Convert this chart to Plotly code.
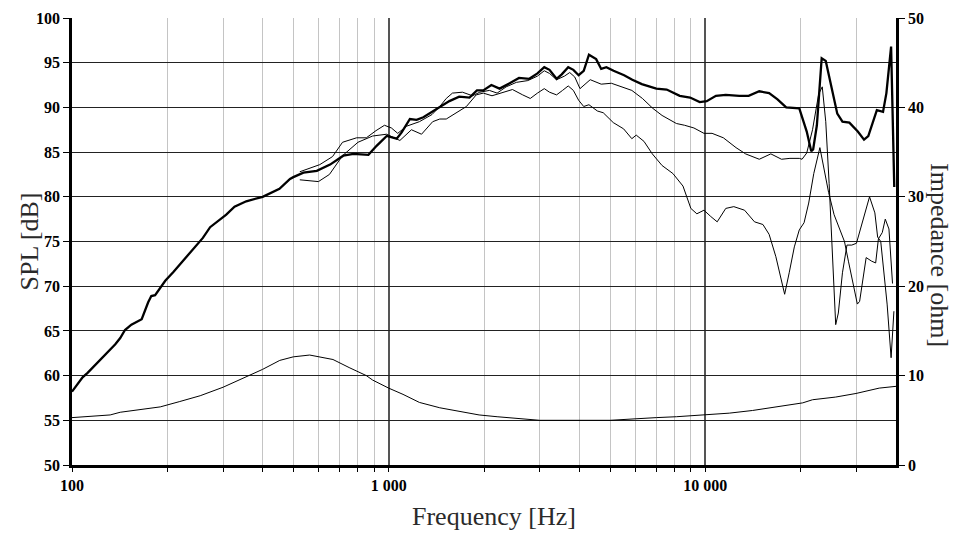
import math
import plotly.graph_objects as go

# ---- data ----
# On-axis SPL (bold)
on_f = [100,104,108,112,117,123,129,137,142,147,154,166,174,178,183,190,197,209,225,247,259,273,289,307,326,355,400,431,452,488,500,538,593,653,719,774,863,916,986,1060,1099,1167,1225,1287,1367,1470,1555,1670,1800,1900,1990,2110,2240,2410,2580,2780,2950,3100,3220,3390,3520,3690,3830,3980,4130,4290,4520,4690,4870,5130,5540,5880,6300,7000,7550,8300,8950,9600,10100,10800,11600,12800,13700,14800,15900,16900,18000,19800,20400,20900,21600,21900,22500,23300,24000,24900,26100,27100,28500,30300,31700,32700,34800,36400,37300,38600,39500]
on_db = [58.2,59.0,59.8,60.3,61.0,61.8,62.6,63.5,64.2,65.1,65.7,66.3,68.2,68.9,69.0,69.8,70.6,71.6,72.9,74.5,75.4,76.6,77.3,78.0,78.9,79.5,80.0,80.5,80.9,82.0,82.2,82.7,82.9,83.6,84.6,84.8,84.7,85.7,86.8,86.5,87.2,88.7,88.6,88.9,89.5,90.2,90.7,91.2,91.1,91.9,91.9,92.5,92.1,92.7,93.3,93.2,93.8,94.5,94.2,93.2,93.7,94.5,94.2,93.6,94.1,95.9,95.4,94.3,94.5,94.1,93.6,93.1,92.6,92.1,92.0,91.3,91.1,90.6,90.7,91.3,91.4,91.3,91.3,91.8,91.6,90.9,90.0,89.9,88.6,87.3,85.1,85.3,88.0,95.5,95.2,92.7,89.3,88.4,88.3,87.3,86.4,86.8,89.7,89.5,91.6,96.8,81.1]

# Off-axis SPL (thin, upper)
b_f = [524,606,665,715,792,850,912,970,1020,1068,1140,1250,1370,1450,1520,1590,1710,1840,1940,2080,2200,2350,2530,2750,2950,3100,3220,3390,3590,3730,3870,4020,4330,4690,5050,5440,5860,6330,6820,7300,8100,8600,9200,9900,10500,11400,12500,13400,14800,16100,17400,18500,19800,20200,20900,21800,22800,23400,24000,24600,25200,25800,26300,27100,28000,29000,30000,31300,33000,34300,35000,35800,36600,37500,38600,39400]
b_db = [82.8,83.6,84.5,86.1,86.6,86.6,87.4,88.0,87.7,87.1,87.9,88.4,89.2,90.1,91.0,91.6,91.7,91.3,91.7,91.9,91.6,92.3,92.8,93.0,93.5,94.1,93.8,93.1,93.5,93.9,93.4,92.1,93.1,92.6,92.7,92.3,91.9,91.0,89.9,89.1,88.2,88.0,87.7,87.1,87.1,86.6,85.5,84.8,84.2,84.8,84.2,84.3,84.3,84.2,84.9,87.5,91.5,92.3,88.4,81.5,73.0,65.7,67.0,71.5,74.6,74.6,74.8,77.2,80.0,78.2,75.5,75.0,72.0,68.0,62.0,67.2]

# Off-axis SPL (thin, lower)
c_f = [524,600,650,715,800,890,985,1085,1180,1270,1377,1450,1520,1630,1760,1890,1990,2120,2290,2460,2650,2800,2950,3100,3220,3390,3540,3690,3830,3980,4130,4290,4560,4760,5120,5520,5860,6050,6400,6800,7300,7900,8500,9000,9400,9900,10400,10900,11600,12300,13300,14300,15200,15900,16700,17800,18400,19100,19800,20500,21200,22000,23000,23600,24500,25500,26500,27500,28300,29300,30200,30700,31500,32200,33500,34500,35200,36200,37000,38000,39000]
c_db = [81.9,81.7,82.5,84.6,86.1,86.8,87.0,86.3,87.5,87.0,88.4,88.7,88.7,89.4,90.1,91.4,91.6,91.3,91.7,92.0,91.4,91.0,91.6,92.1,91.7,91.4,91.9,92.4,91.9,90.8,90.1,90.3,89.6,89.4,88.3,87.6,86.5,86.9,86.2,84.8,83.5,82.6,81.2,78.7,78.1,78.5,77.8,77.2,78.7,78.9,78.5,77.2,76.9,75.8,73.3,69.1,71.5,74.4,76.3,77.1,79.3,82.6,85.5,83.5,80.5,78.0,76.5,75.0,72.8,70.0,68.0,68.3,71.0,73.2,72.8,72.6,75.3,76.0,77.5,76.4,70.3]

# Impedance (ohm, right axis)
imp_f = [100,132,142,168,190,219,254,300,347,400,453,500,563,606,667,750,850,890,1000,1110,1250,1450,1670,1930,2200,2670,3000,5000,6060,7000,8100,10000,11900,14100,16700,20300,21800,25800,29900,35400,40000]
imp_ohm = [5.3,5.6,5.9,6.2,6.5,7.1,7.75,8.7,9.75,10.7,11.7,12.1,12.3,12.1,11.8,10.9,10.0,9.5,8.6,7.9,7.0,6.4,6.0,5.6,5.4,5.1,5.0,5.0,5.2,5.3,5.4,5.6,5.8,6.1,6.5,6.95,7.3,7.6,8.0,8.6,8.8]

x_major = [100, 1000, 10000]
x_major_text = ["100", "1 000", "10 000"]
x_minor = [200,300,400,500,600,700,800,900,2000,3000,4000,5000,6000,7000,8000,9000,20000,30000]

SERIF = "Liberation Serif"
TITLE_FONT = dict(family=SERIF, size=26, color="#2a2a2a")

fig = go.Figure()
fig.add_trace(go.Scatter(x=b_f, y=b_db, mode="lines", line=dict(color="black", width=1), yaxis="y", showlegend=False))
fig.add_trace(go.Scatter(x=c_f, y=c_db, mode="lines", line=dict(color="black", width=1), yaxis="y", showlegend=False))
fig.add_trace(go.Scatter(x=on_f, y=on_db, mode="lines", line=dict(color="black", width=2.3), yaxis="y", showlegend=False))
fig.add_trace(go.Scatter(x=imp_f, y=imp_ohm, mode="lines", line=dict(color="black", width=1), yaxis="y2", showlegend=False))

tickfont = dict(family=SERIF, size=16, color="black", weight="bold")

fig.update_layout(
    width=954, height=541,
    margin=dict(l=72, r=58, t=18, b=76, autoexpand=False),
    paper_bgcolor="white", plot_bgcolor="white",
    xaxis=dict(
        type="log", range=[2, math.log10(40000)],
        tickvals=x_major, ticktext=x_major_text,
        showgrid=True, gridcolor="#555555", gridwidth=1.5,
        minor=dict(tickvals=x_minor, showgrid=True, gridcolor="#c4c4c4", gridwidth=1,
                   ticks="outside", ticklen=4, tickcolor="black"),
        ticks="outside", ticklen=4, tickcolor="black",
        showline=True, linecolor="black", linewidth=2.5,
        tickfont=tickfont, automargin=False,
        zeroline=False,
    ),
    yaxis=dict(
        range=[50, 100], dtick=5, tick0=50,
        showgrid=True, gridcolor="#222222", gridwidth=1,
        ticks="outside", ticklen=6, tickcolor="black",
        showline=True, linecolor="black", linewidth=2.5,
        tickfont=tickfont, automargin=False,
        zeroline=False,
    ),
    yaxis2=dict(
        range=[0, 50], dtick=10, tick0=0,
        overlaying="y", side="right",
        showgrid=False,
        ticks="outside", ticklen=6, tickcolor="black",
        showline=True, linecolor="black", linewidth=2.5,
        tickfont=tickfont, automargin=False,
        zeroline=False,
    ),
    annotations=[
        dict(text="Frequency [Hz]", xref="paper", yref="paper", x=0.512, y=-0.116,
             xanchor="center", yanchor="middle", showarrow=False, font=TITLE_FONT),
        dict(text="SPL [dB]", xref="paper", yref="paper", x=-0.051, y=0.5,
             xanchor="center", yanchor="middle", textangle=-90, showarrow=False, font=TITLE_FONT),
        dict(text="Impedance [ohm]", xref="paper", yref="paper", x=1.052, y=0.47,
             xanchor="center", yanchor="middle", textangle=90, showarrow=False, font=TITLE_FONT),
    ],
)

fig.write_html("out.html", config={"displayModeBar": False},
               post_script="document.body.style.margin='0';")
